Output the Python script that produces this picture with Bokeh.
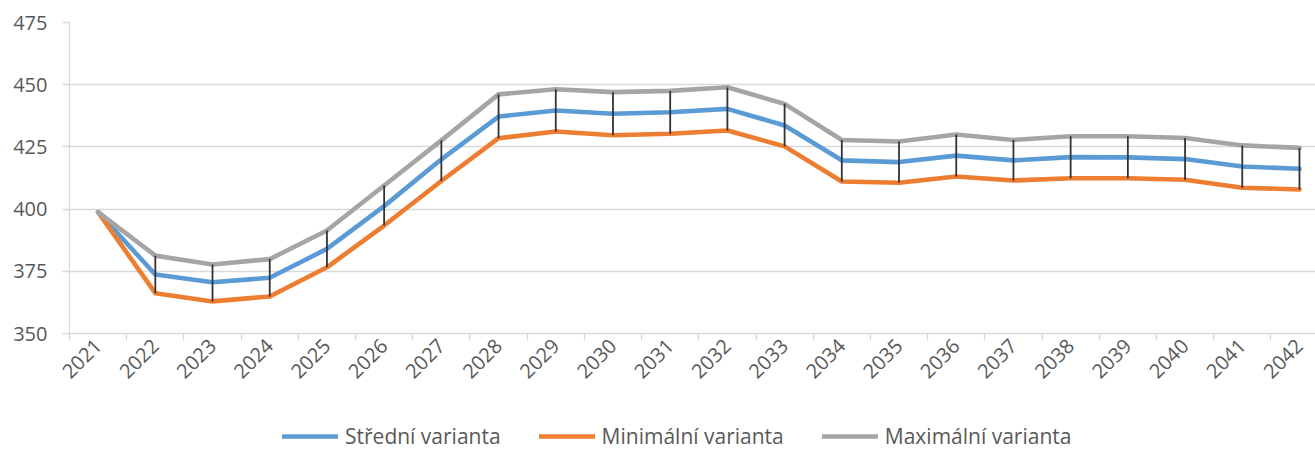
from bokeh.plotting import figure
from bokeh.models import Range1d, FixedTicker, Legend, LegendItem, ColumnDataSource
from bokeh.layouts import column
from bokeh.embed import file_html
from bokeh.resources import INLINE
import math

years = ["2021", "2022", "2023", "2024", "2025", "2026", "2027", "2028", "2029", "2030", "2031",
         "2032", "2033", "2034", "2035", "2036", "2037", "2038", "2039", "2040", "2041", "2042"]
stredni = [398.8, 373.7, 370.6, 372.4, 384.0, 401.2, 420.0, 437.2, 439.6, 438.3, 438.9,
           440.3, 433.6, 419.6, 418.9, 421.5, 419.6, 420.9, 420.8, 420.1, 417.1, 416.2]
minimalni = [398.8, 366.2, 362.9, 364.9, 376.6, 393.4, 411.3, 428.5, 431.2, 429.7, 430.3,
             431.6, 425.2, 411.1, 410.6, 413.1, 411.5, 412.4, 412.4, 411.8, 408.6, 407.9]
maximalni = [398.8, 381.3, 377.7, 379.9, 391.4, 409.5, 427.6, 446.1, 448.2, 447.0, 447.5,
             449.0, 442.3, 427.8, 427.2, 430.0, 427.8, 429.3, 429.3, 428.6, 425.6, 424.6]
y_ticks = [350, 375, 400, 425, 450, 475]
series_names = ["Střední varianta", "Minimální varianta", "Maximální varianta"]
colors = ["#5B9BD5", "#ED7D31", "#A5A5A5"]

FONT = "Open Sans"
TXT = "#595959"
GRID = "#D9D9D9"
LW = 4.6

idx = list(range(len(years)))
src = ColumnDataSource(dict(x=idx, mid=stredni, lo=minimalni, hi=maximalni, year=years))

p = figure(width=1315, height=405, output_backend="svg", toolbar_location=None,
           x_range=Range1d(-0.5, 21.28), y_range=Range1d(350, 475),
           min_border_left=69, min_border_top=22, min_border_right=0, min_border_bottom=72)
p.outline_line_color = None
p.background_fill_color = "white"

r_mid = p.line("x", "mid", source=src, line_color=colors[0], line_width=LW,
               line_join="round", line_cap="round")
r_lo = p.line("x", "lo", source=src, line_color=colors[1], line_width=LW,
              line_join="round", line_cap="round")
r_hi = p.line("x", "hi", source=src, line_color=colors[2], line_width=LW,
              line_join="round", line_cap="round")
p.segment(x0="x", y0="lo", x1="x", y1="hi", source=src, line_color="#333333", line_width=1.8)

# x axis
xa = p.xaxis[0]
xa.ticker = FixedTicker(ticks=idx, minor_ticks=[i - 0.5 for i in idx] + [len(idx) - 0.5])
xa.major_label_overrides = {i: y for i, y in zip(idx, years)}
xa.major_tick_line_color = None
xa.major_tick_out = 0
xa.major_tick_in = 0
xa.minor_tick_line_color = GRID
xa.minor_tick_out = 7
xa.minor_tick_in = 0
xa.minor_tick_line_width = 1.3
xa.axis_line_color = GRID
xa.axis_line_width = 1.3
xa.major_label_orientation = math.pi / 4
xa.major_label_text_font = FONT
xa.major_label_text_font_size = "20px"
xa.major_label_text_color = TXT
xa.major_label_standoff = 2

# y axis
ya = p.yaxis[0]
ya.ticker = FixedTicker(ticks=y_ticks)
ya.axis_line_color = GRID
ya.axis_line_width = 1.3
ya.major_tick_line_color = GRID
ya.major_tick_line_width = 1.3
ya.major_tick_out = 7
ya.major_tick_in = 0
ya.minor_tick_line_color = None
ya.major_label_text_font = FONT
ya.major_label_text_font_size = "20px"
ya.major_label_text_color = TXT
ya.major_label_standoff = 15

p.xgrid.grid_line_color = None
p.ygrid.ticker = FixedTicker(ticks=y_ticks)
p.ygrid.grid_line_color = GRID
p.ygrid.grid_line_width = 1.3

# legend strip below the chart (its frame is aligned with the chart's frame)
pl = figure(width=1315, height=45, output_backend="svg", toolbar_location=None,
            x_axis_location=None, y_axis_location=None,
            x_range=Range1d(0, 1), y_range=Range1d(0, 1),
            min_border_left=0, min_border_top=0, min_border_right=0, min_border_bottom=0)
pl.outline_line_color = None
pl.grid.grid_line_color = None
items = []
for name, c in zip(series_names, colors):
    # sample glyphs only: points lie outside the visible range
    r = pl.line(x=[5, 6], y=[5, 5], line_color=c, line_width=LW, line_cap="round")
    items.append(LegendItem(label=name, renderers=[r]))

legend = Legend(items=items, orientation="horizontal", location=(213, 0))
legend.border_line_color = None
legend.background_fill_alpha = 0
legend.label_text_font = FONT
legend.label_text_font_size = "21px"
legend.label_text_color = TXT
legend.glyph_width = 56
legend.glyph_height = 20
legend.label_standoff = 7
legend.spacing = 38
legend.padding = 0
legend.margin = 0
pl.add_layout(legend, "center")

layout = column(p, pl, spacing=0)
open("out.html", "w").write(file_html(layout, INLINE))
